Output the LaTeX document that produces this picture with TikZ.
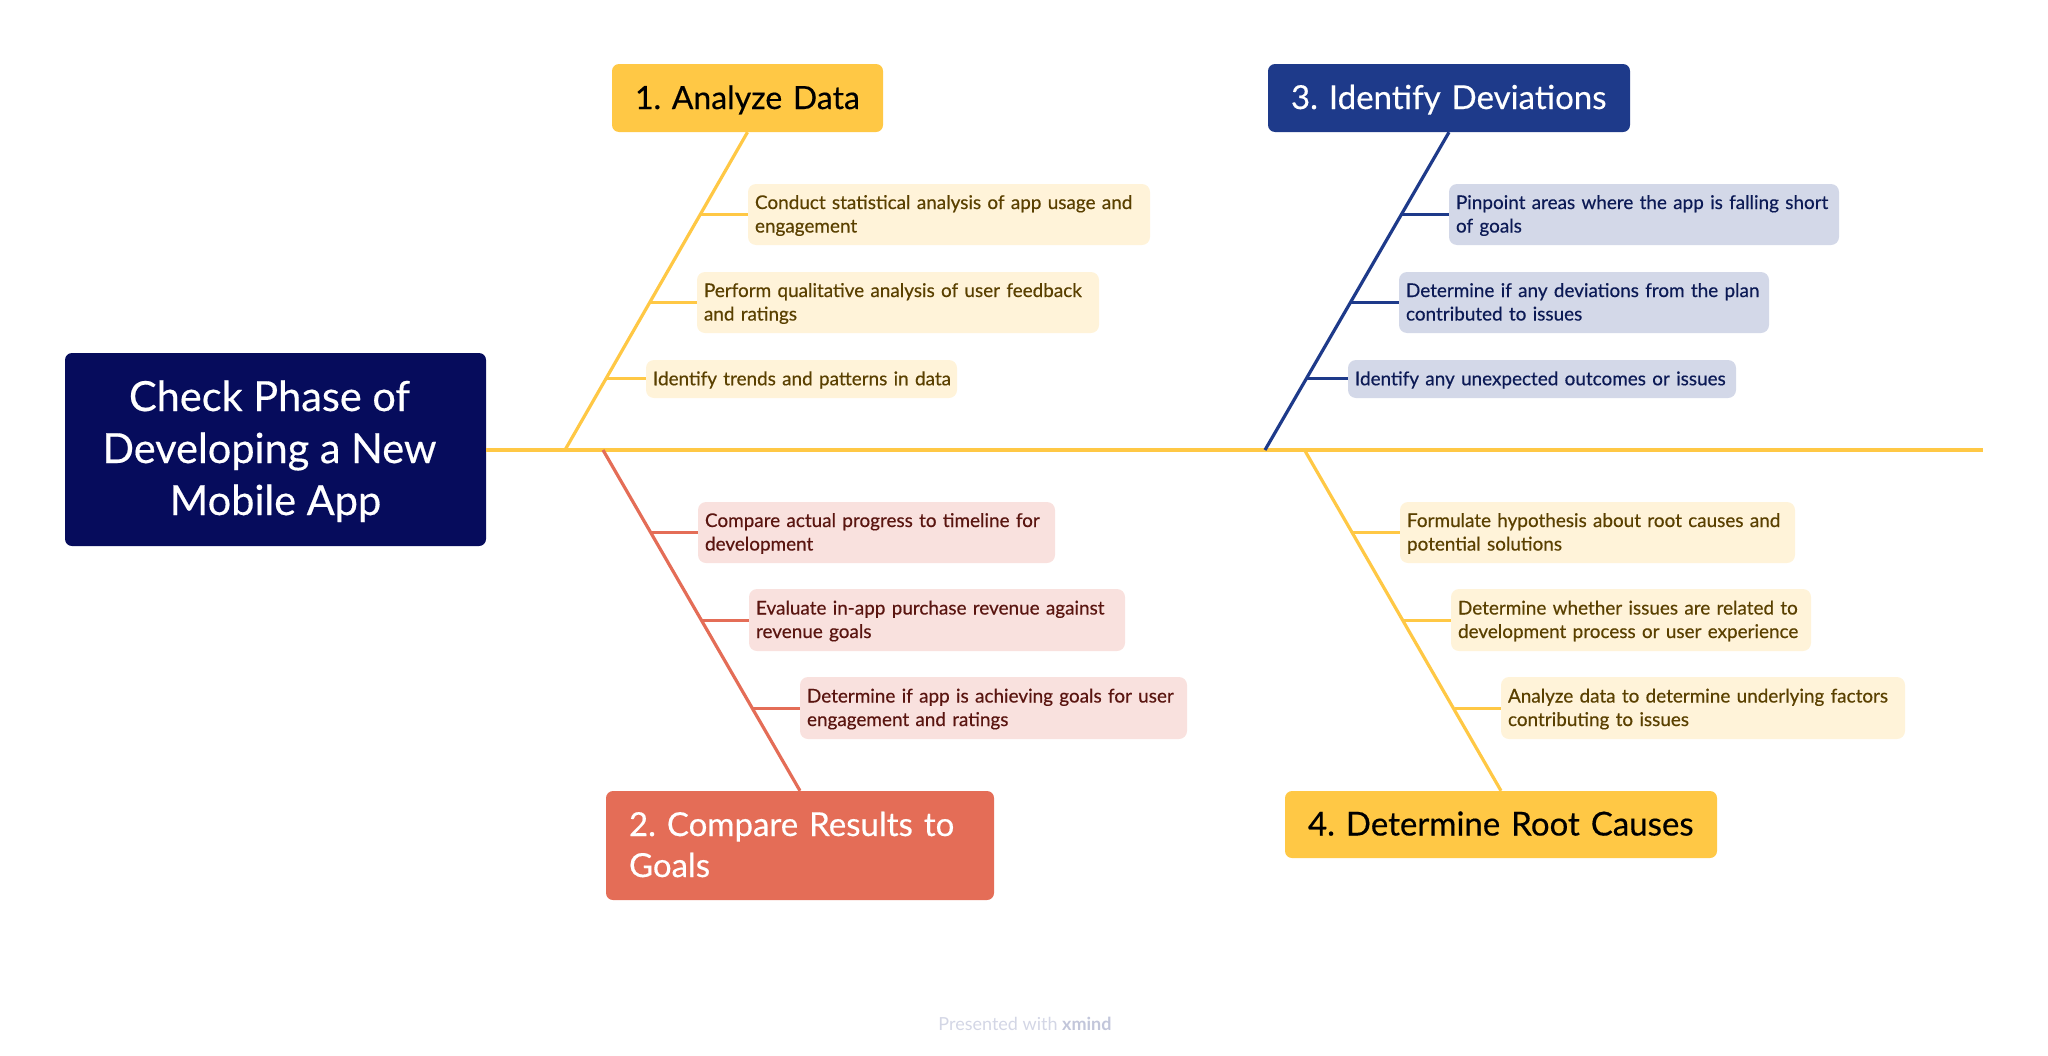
\documentclass[tikz,border=0pt]{standalone}
\usepackage{fontspec}
\setmainfont{Lato}[FakeBold=0.4]
\newfontfamily\creditfont{Lato}
\usepackage{xcolor}
\definecolor{sunny}{HTML}{FFC845}
\definecolor{coral}{HTML}{E46D57}
\definecolor{navy}{HTML}{060C5C}
\definecolor{royal}{HTML}{1E3A8A}
\definecolor{sunnyleaf}{HTML}{FFF3D9}
\definecolor{coralleaf}{HTML}{F9E1DE}
\definecolor{royalleaf}{HTML}{D3D8E8}
\definecolor{sunnytext}{HTML}{5A4000}
\definecolor{coraltext}{HTML}{5A1510}
\definecolor{royaltext}{HTML}{0C1A55}
\definecolor{creditgray}{HTML}{D3D6E5}
\definecolor{creditdark}{HTML}{C2C6DA}
\frenchspacing
\begin{document}
\begin{tikzpicture}[
			x=1pt, y=-1pt,
			font=\fontsize{18.9}{23.5}\selectfont,
			wide/.style={minimum width=#1, text width=#1-4pt},
			root/.style={rounded corners=7pt, fill=navy, text=white, align=flush center, inner sep=0pt, wide=421pt, minimum height=193pt, font=\fontsize{41.5}{52}\selectfont,
				execute at begin node={\rule[-8pt]{0pt}{43pt}}, execute at end node={\rule[-8pt]{0pt}{43pt}}},
			head/.style={rounded corners=7pt, align=left, inner sep=0pt, font=\fontsize{33}{41}\selectfont,
				execute at begin node={\leftskip=21pt\relax\rule[-6pt]{0pt}{34pt}}, execute at end node={\rule[-6pt]{0pt}{34pt}}},
			leaf/.style={rounded corners=8pt, align=left, inner sep=0pt,
				execute at begin node={\leftskip=5pt\relax\rule[-5.5pt]{0pt}{23.5pt}}, execute at end node={\rule[-5.5pt]{0pt}{23.5pt}}},
			ysun/.style={leaf, fill=sunnyleaf, text=sunnytext},
			rcor/.style={leaf, fill=coralleaf, text=coraltext},
			broy/.style={leaf, fill=royalleaf, text=royaltext},
			spine/.style={line width=3.5pt, sunny},
			bone/.style={line width=3.2pt},
			twig/.style={line width=3pt}
			]
			
			\useasboundingbox (0,0) rectangle (2048,1055);
			
			\node[root] (check) at (275.5,449.5) {Check Phase of\hspace*{12pt} \\ Developing a New\hspace*{12pt} \\ Mobile App};
			\coordinate (tail) at (1983,450);
			
			\node[head, fill=sunny, text=black, wide=271pt, minimum height=68pt, font=\fontsize{32}{41}\selectfont] (analyze) at (747.5,98) {1. Analyze Data};
			\node[head, fill=coral, text=white, wide=388pt, minimum height=109pt] (compare) at (800,845.5) {2. Compare Results to \\ Goals};
			\node[head, fill=royal, text=white, wide=362pt, minimum height=68pt] (deviate) at (1449,98) {3. Identify Deviations};
			\node[head, fill=sunny, text=black, wide=432pt, minimum height=67pt] (causes) at (1501,824.5) {4. Determine Root Causes};
			
			\coordinate (j1) at (565,450);
			\coordinate (j2) at (603,450);
			\coordinate (j3) at (1265,450);
			\coordinate (j4) at (1304.5,450);
			
			\node[ysun, wide=402pt, minimum height=61pt] (a1) at (949,214.5) {Conduct statistical analysis of app usage and \\ engagement};
			\node[ysun, wide=402pt, minimum height=61pt] (a2) at (898,302.5) {Perform qualitative analysis of user feedback \\ and ratings};
			\node[ysun, wide=311pt, minimum height=38pt] (a3) at (801.5,379) {Identify trends and patterns in data};
			
			\node[rcor, wide=357pt, minimum height=61pt] (c1) at (876.5,532.5) {Compare actual progress to timeline for \\ development};
			\node[rcor, wide=376pt, minimum height=62pt] (c2) at (937,620) {Evaluate in-app purchase revenue against \\ revenue goals};
			\node[rcor, wide=387pt, minimum height=62pt] (c3) at (993.5,708) {Determine if app is achieving goals for user \\ engagement and ratings};
			
			\node[broy, wide=390pt, minimum height=61pt] (d1) at (1644,214.5) {Pinpoint areas where the app is falling short \\ of goals};
			\node[broy, wide=370pt, minimum height=61pt] (d2) at (1584,302.5) {Determine if any deviations from the plan \\ contributed to issues};
			\node[broy, wide=388pt, minimum height=38pt] (d3) at (1542,379) {Identify any unexpected outcomes or issues};
			
			\node[ysun, wide=395pt, minimum height=61pt] (r1) at (1597.5,532.5) {Formulate hypothesis about root causes and \\ potential solutions};
			\node[ysun, wide=360pt, minimum height=62pt] (r2) at (1631,620) {Determine whether issues are related to \\ development process or user experience};
			\node[ysun, wide=404pt, minimum height=62pt] (r3) at (1703,708) {Analyze data to determine underlying factors \\ contributing to issues};
			
			\coordinate (ta1) at (700,214);
			\coordinate (ta2) at (650,302);
			\coordinate (ta3) at (605,378.5);
			\coordinate (tc1) at (651.5,532);
			\coordinate (tc2) at (702,620);
			\coordinate (tc3) at (753,708);
			\coordinate (td1) at (1402,214);
			\coordinate (td2) at (1351,302);
			\coordinate (td3) at (1306,378.5);
			\coordinate (tr1) at (1352,532);
			\coordinate (tr2) at (1404,620);
			\coordinate (tr3) at (1454.6,708);
			
			\draw[spine] (check.east |- tail) -- (tail);
			
			\draw[bone, sunny] (analyze.south) -- (j1);
			\draw[bone, coral] (compare.north) -- (j2);
			\draw[bone, royal] (deviate.south) -- (j3);
			\draw[bone, sunny] (causes.north) -- (j4);
			
			\draw[twig, sunny] (ta1) -- (a1.west |- ta1);
			\draw[twig, sunny] (ta2) -- (a2.west |- ta2);
			\draw[twig, sunny] (ta3) -- (a3.west |- ta3);
			\draw[twig, coral] (tc1) -- (c1.west |- tc1);
			\draw[twig, coral] (tc2) -- (c2.west |- tc2);
			\draw[twig, coral] (tc3) -- (c3.west |- tc3);
			\draw[twig, royal] (td1) -- (d1.west |- td1);
			\draw[twig, royal] (td2) -- (d2.west |- td2);
			\draw[twig, royal] (td3) -- (d3.west |- td3);
			\draw[twig, sunny] (tr1) -- (r1.west |- tr1);
			\draw[twig, sunny] (tr2) -- (r2.west |- tr2);
			\draw[twig, sunny] (tr3) -- (r3.west |- tr3);
			
			\node[text=creditgray, font=\creditfont\fontsize{18}{20}\selectfont] (credit) at (1025,1024) {Presented with \textcolor{creditdark}{\textbf{xmind}}};
			
		\end{tikzpicture}
\end{document}
